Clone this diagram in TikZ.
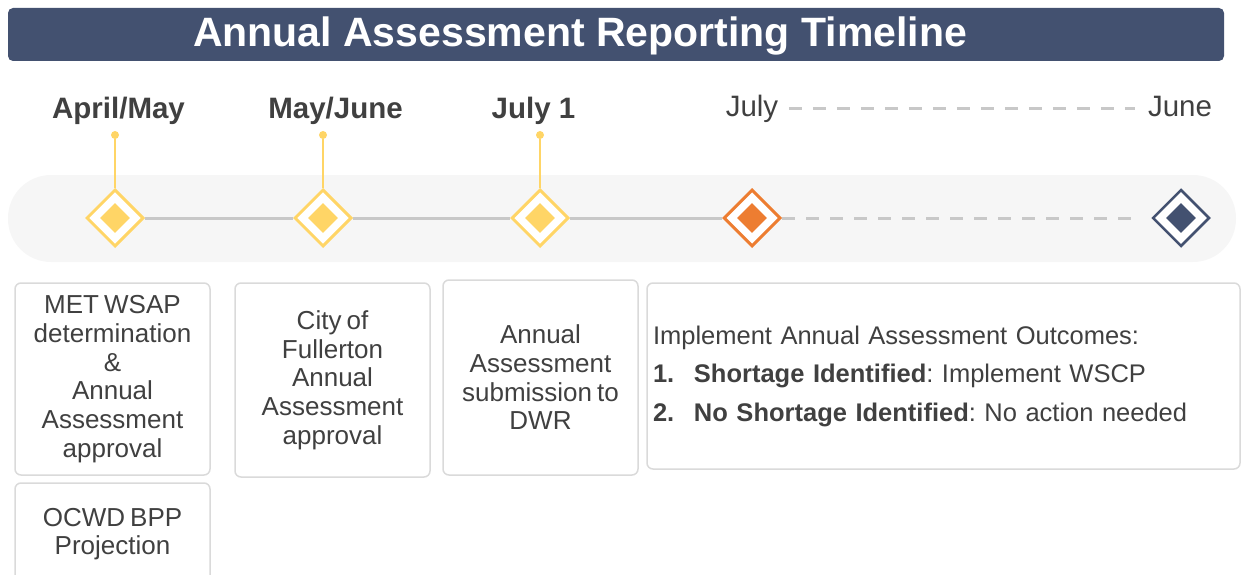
\documentclass[tikz,border=0pt]{standalone}
\usepackage{fontspec}
\setmainfont{Liberation Sans}
\newfontfamily\cardfont[WordSpace=0.7]{Liberation Sans}
\usetikzlibrary{shapes.geometric}
\definecolor{navy}{RGB}{67,81,112}
\definecolor{gold}{RGB}{255,213,102}
\definecolor{tangerine}{RGB}{237,125,49}
\definecolor{track}{RGB}{200,200,200}
\definecolor{bandgray}{RGB}{246,246,246}
\definecolor{boxgray}{RGB}{218,218,218}
\definecolor{ink}{RGB}{64,64,64}
\tikzset{
  gem/.style={shape=diamond, aspect=1, minimum size=57, inner sep=0, line width=3, fill=white},
  core/.style={shape=diamond, aspect=1, minimum size=30, inner sep=0},
  pindot/.style={circle, fill=gold, minimum size=8, inner sep=0},
  stem/.style={gold, line width=2},
  rail/.style={track, line width=3},
  when/.style={anchor=base, text=ink, text height=22, text depth=5, font=\fontsize{29.5}{33}\selectfont},
  card/.style={draw=boxgray, line width=1.5, rounded corners=6, fill=white, inner sep=0,
    align=center, text=ink, font=\cardfont\frenchspacing\fontsize{26}{28.7}\selectfont},
}
\begin{document}
\begin{tikzpicture}[x=1pt,y=-1pt]
      \useasboundingbox (0,0) rectangle (1244,575);
      % Draw title bar
      \node [fill=navy, rounded corners=5, minimum width=1216, minimum height=53, inner sep=0] (bar) at (616,34.5) {};
      \node [text=white, font=\fontsize{41}{48}\selectfont\bfseries] (title) at (580,36) {Annual Assessment Reporting Timeline};
      % Draw band
      \node [fill=bandgray, rounded corners=43, minimum width=1228, minimum height=87, inner sep=0] (band) at (622,218.5) {};
      % Draw milestones
      \node [gem, draw=gold] (d1) at (115,218) {};
      \node [core, fill=gold] (c1) at (d1) {};
      \node [gem, draw=gold] (d2) at (323,218) {};
      \node [core, fill=gold] (c2) at (d2) {};
      \node [gem, draw=gold] (d3) at (540,218) {};
      \node [core, fill=gold] (c3) at (d3) {};
      \node [gem, draw=tangerine] (d4) at (752,218) {};
      \node [core, fill=tangerine] (c4) at (d4) {};
      \node [gem, draw=navy, line width=2.5] (d5) at (1181,218) {};
      \node [core, fill=navy] (c5) at (d5) {};
      % Draw the track
      \draw [rail] (d1) -- (d2) -- (d3) -- (d4);
      \draw [rail, dash pattern=on 13pt off 11pt, shorten >=18] (d4) -- (d5);
      % Draw the pins
      \node [pindot] (p1) at (115,135) {};
      \node [pindot] (p2) at (323,135) {};
      \node [pindot] (p3) at (540,135) {};
      \draw [stem] (p1) -- (d1);
      \draw [stem] (p2) -- (d2);
      \draw [stem] (p3) -- (d3);
      % Draw the dates
      \node [when] (w1) at (118.5,118) {\bfseries April/May};
      \node [when] (w2) at (335.5,118) {\bfseries May/June};
      \node [when] (w3) at (533.5,118) {\bfseries July 1};
      \node [when] (july) at (752,117) {July};
      \node [when] (june) at (1180,117) {June};
      \draw [rail, dash pattern=on 13pt off 11pt, shorten <=7, shorten >=9] (july) -- (june);
      % Draw the cards
      \node [card, minimum width=195, minimum height=192] (met) at (112.5,379)
        {MET WSAP\\determination\\\&\\Annual\\Assessment\\approval};
      \node [card, minimum width=195, minimum height=102] (ocwd) at (112.5,534) {OCWD BPP\\Projection};
      \node [card, minimum width=195, minimum height=194] (city) at (332.5,380)
        {City of\\Fullerton\\Annual\\Assessment\\approval};
      \node [card, minimum width=195, minimum height=195] (dwr) at (540.5,377.5)
        {Annual\\Assessment\\submission to\\DWR};
      \node [card, minimum width=593, minimum height=186, text width=581, inner xsep=6, align=left,
        font=\cardfont\frenchspacing\fontsize{25.5}{38.5}\selectfont] (outcome) at (943.5,376)
        {Implement Annual Assessment Outcomes:\\
         \makebox[41pt][l]{\bfseries 1.}\textbf{Shortage Identified}: Implement WSCP\\
         \makebox[41pt][l]{\bfseries 2.}\textbf{No Shortage Identified}: No action needed};
    \end{tikzpicture}
\end{document}
